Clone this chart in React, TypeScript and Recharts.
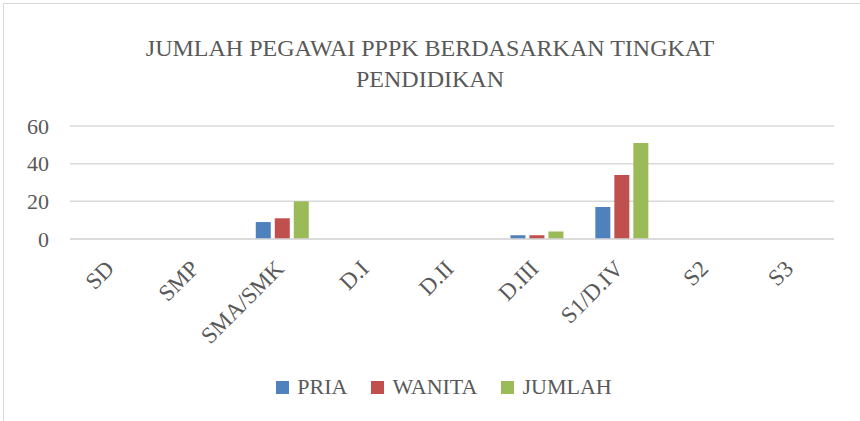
import React from 'react';
import { Bar, BarChart, CartesianGrid, XAxis, YAxis } from 'recharts';

const categories = ['SD', 'SMP', 'SMA/SMK', 'D.I', 'D.II', 'D.III', 'S1/D.IV', 'S2', 'S3'];
const pria = [0, 0, 9, 0, 0, 2, 17, 0, 0];
const wanita = [0, 0, 11, 0, 0, 2, 34, 0, 0];
const jumlah = [0, 0, 20, 0, 0, 4, 51, 0, 0];
const yTicks = [0, 20, 40, 60];

const series = [
  { key: 'pria', name: 'PRIA', color: '#4f81bd' },
  { key: 'wanita', name: 'WANITA', color: '#c0504d' },
  { key: 'jumlah', name: 'JUMLAH', color: '#9bbb59' },
];

const data = categories.map((label, i) => ({
  label,
  pria: pria[i],
  wanita: wanita[i],
  jumlah: jumlah[i],
}));

const FONT = '"Liberation Serif", "DejaVu Serif", serif';
const INK = '#595959';

function SlantTick(props: any) {
  const { x, payload } = props;
  const ax = x + 3;
  const ay = 270;
  return (
    <text
      x={ax}
      y={ay}
      textAnchor="end"
      transform={`rotate(-45, ${ax}, ${ay})`}
      fill={INK}
      fontSize={23}
      fontFamily={FONT}
    >
      {payload.value}
    </text>
  );
}

export default function App() {
  return (
    <div
      style={{
        position: 'absolute',
        left: 0,
        top: 0,
        width: 860,
        height: 421,
        overflow: 'hidden',
        background: '#fff',
        fontFamily: FONT,
      }}
    >
      <div
        style={{
          position: 'absolute',
          left: 3,
          top: 3,
          width: 900,
          height: 500,
          borderLeft: '1.5px solid #d9d9d9',
          borderTop: '1.5px solid #d9d9d9',
        }}
      />
      <div
        style={{
          position: 'absolute',
          left: 0,
          top: 33,
          width: 860,
          textAlign: 'center',
          fontSize: 24,
          lineHeight: '31px',
          color: INK,
        }}
      >
        JUMLAH PEGAWAI PPPK BERDASARKAN TINGKAT
        <br />
        PENDIDIKAN
      </div>
      <div style={{ position: 'absolute', left: 0, top: 0 }}>
        <BarChart
          width={860}
          height={421}
          data={data}
          margin={{ top: 126, right: 26, bottom: 152, left: 10 }}
          barSize={15}
          barGap={4}
        >
          <CartesianGrid vertical={false} stroke="#d9d9d9" strokeWidth={1.5} />
          <XAxis
            dataKey="label"
            height={30}
            axisLine={{ stroke: '#d9d9d9', strokeWidth: 1.5 }}
            tickLine={false}
            interval={0}
            tick={<SlantTick />}
          />
          <YAxis
            width={60}
            domain={[0, 60]}
            ticks={yTicks}
            interval={0}
            axisLine={false}
            tickLine={false}
            tickMargin={0}
            tick={{ fill: INK, fontSize: 22, fontFamily: FONT, dx: -15 }}
          />
          {series.map((s) => (
            <Bar key={s.key} dataKey={s.key} name={s.name} fill={s.color} isAnimationActive={false} />
          ))}
        </BarChart>
      </div>
      <div
        style={{
          position: 'absolute',
          left: 14,
          top: 374,
          width: 860,
          display: 'flex',
          justifyContent: 'center',
          alignItems: 'center',
          fontSize: 22,
          color: INK,
        }}
      >
        {series.map((s, i) => (
          <div
            key={s.key}
            style={{ display: 'flex', alignItems: 'center', marginLeft: i === 0 ? 0 : 24 }}
          >
            <span
              style={{ display: 'inline-block', width: 13, height: 13, background: s.color, marginRight: 8 }}
            />
            <span>{s.name}</span>
          </div>
        ))}
      </div>
    </div>
  );
}
